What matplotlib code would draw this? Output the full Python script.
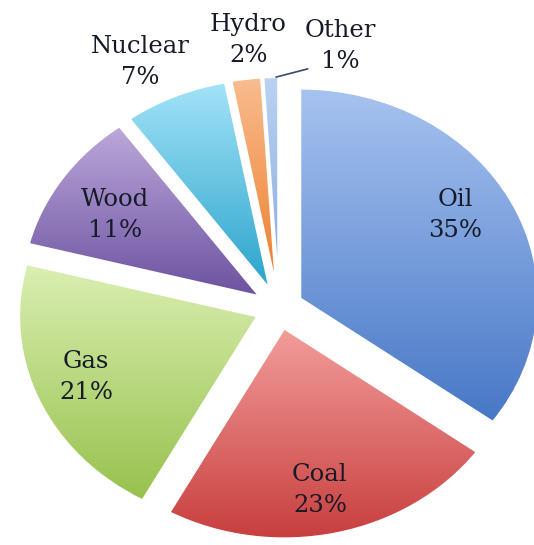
import numpy as np
import matplotlib
matplotlib.use("Agg")
import matplotlib.pyplot as plt
from matplotlib.colors import LinearSegmentedColormap

# data
sources = ["Oil", "Coal", "Gas", "Wood", "Nuclear", "Hydro", "Other"]
shares = [35, 23, 21, 11, 7, 2, 1]

# gradient colours (top, bottom) for each slice
tops = ["#a7c3f0", "#f29e9c", "#dbefb2", "#bca8da", "#a3e3f8", "#f9bd8e", "#bad2f2"]
bottoms = ["#4777c6", "#c73c3b", "#97c14d", "#6c52a0", "#2aa3cb", "#ec7c2c", "#86abde"]

# label placement: distance from centre, angle tweak (deg)
lab_r = [0.862, 0.884, 0.875, 0.819, 1.309, 1.283, 1.274]
lab_da = [3.9, -1.4, -1.3, 1.5, 3.1, -1.4, -13.4]

fig = plt.figure(figsize=(5.34, 5.45), dpi=100)
ax = fig.add_axes([0, 0, 1, 1])

wedges, _ = ax.pie(shares, startangle=90, counterclock=False,
                   explode=[0.1] * len(shares), radius=1.0,
                   colors=["none"] * len(shares),
                   wedgeprops=dict(edgecolor="white", linewidth=1.5))

grad = np.linspace(0, 1, 256).reshape(-1, 1)
for w, t, b in zip(wedges, tops, bottoms):
    v = w.get_path().vertices
    x0, x1 = v[:, 0].min(), v[:, 0].max()
    y0, y1 = v[:, 1].min(), v[:, 1].max()
    cm = LinearSegmentedColormap.from_list("g", [t, b])
    im = ax.imshow(grad, cmap=cm, extent=[x0, x1, y0, y1], origin="upper",
                   aspect="auto", interpolation="bilinear", zorder=1)
    im.set_clip_path(w)
    w.set_zorder(2)

tot = sum(shares)
start = 90.0
for i, (name, s) in enumerate(zip(sources, shares)):
    mid = start - 360.0 * s / tot / 2
    start -= 360.0 * s / tot
    a = np.deg2rad(mid + lab_da[i])
    ax.text(lab_r[i] * np.cos(a), lab_r[i] * np.sin(a), f"{name}\n{s}%",
            ha="center", va="center", fontsize=17.5, family="DejaVu Serif",
            color="#171a28", linespacing=1.45, zorder=5)
    if name == "Other":
        a0 = np.deg2rad(mid - 1.2)
        a1 = np.deg2rad(84)
        ax.plot([1.1 * np.cos(a0), 1.145 * np.cos(a1)],
                [1.1 * np.sin(a0), 1.145 * np.sin(a1)],
                color="#3a4a6a", lw=1.2, zorder=5)

# stretched horizontally like the original picture
ax.set_aspect("auto")
ax.set_xlim(-1.172, 1.071)
ax.set_ylim(-1.129, 1.467)
ax.axis("off")

fig.savefig("out.png", dpi=100, facecolor="white")
